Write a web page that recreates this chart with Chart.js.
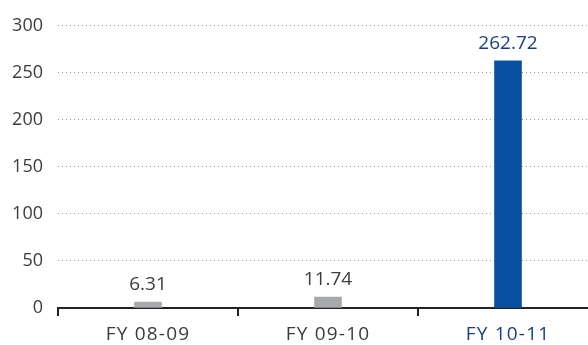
<!DOCTYPE html>
<html>
<head>
<meta charset="utf-8">
<script src="https://cdn.jsdelivr.net/npm/chart.js@4/dist/chart.umd.min.js"></script>
<style>
  html, body { margin: 0; padding: 0; background: #fff; overflow: hidden; }
  #wrap { width: 600px; height: 345px; }
</style>
</head>
<body>
<div id="wrap"><canvas id="fyChart" width="600" height="345"></canvas></div>
<script>
const categories = ["FY 08-09", "FY 09-10", "FY 10-11"];
const values = [6.31, 11.74, 262.72];
const valueLabels = ["6.31", "11.74", "262.72"];
const yMin = 0;
const yMax = 300;
const yStep = 50;

const FONT = "'Open Sans', 'Noto Sans', sans-serif";
const GREY_BAR = "#a7a9ac";
const BLUE_BAR = "#0a50a0";
const GREY_TEXT = "#3c3c3c";
const BLUE_TEXT = "#1b3f7e";

function isLast(i) { return i === categories.length - 1; }

const valueLabelPlugin = {
    id: "valueLabels",
    afterDatasetsDraw(chart) {
        const ctx = chart.ctx;
        const meta = chart.getDatasetMeta(0);
        ctx.save();
        ctx.font = "19px " + FONT;
        ctx.textAlign = "center";
        ctx.textBaseline = "alphabetic";
        meta.data.forEach((bar, i) => {
            ctx.fillStyle = isLast(i) ? BLUE_TEXT : GREY_TEXT;
            ctx.fillText(valueLabels[i], bar.x, bar.y - 12);
        });
        ctx.restore();
        // x tick labels are drawn after this (ticks.z = 1), a bit spaced out
        ctx.letterSpacing = "1.2px";
    },
    afterDraw(chart) {
        chart.ctx.letterSpacing = "0px";
    }
};

new Chart(document.getElementById("fyChart"), {
    type: "bar",
    data: {
        labels: categories,
        datasets: [{
            data: values,
            backgroundColor: categories.map((c, i) => isLast(i) ? BLUE_BAR : GREY_BAR),
            barThickness: 27,
            borderWidth: 0
        }]
    },
    options: {
        responsive: false,
        animation: false,
        devicePixelRatio: 1,
        layout: { padding: { top: 24, right: 2, left: 0, bottom: 0 } },
        plugins: {
            legend: { display: false },
            tooltip: { enabled: false }
        },
        scales: {
            x: {
                offset: true,
                afterFit(scale) { scale.height = 37; },
                border: { display: true, color: "#222", width: 2 },
                grid: {
                    display: true,
                    offset: true,
                    drawOnChartArea: false,
                    drawTicks: true,
                    tickLength: 8,
                    color: "#222",
                    lineWidth: 2
                },
                ticks: {
                    z: 1,
                    padding: 7,
                    font: { family: FONT, size: 19 },
                    color: (c) => isLast(c.index) ? BLUE_TEXT : GREY_TEXT
                }
            },
            y: {
                min: yMin,
                max: yMax,
                afterFit(scale) { scale.width = 58; },
                border: { display: false, dash: [1, 3] },
                grid: {
                    color: "#9a9a9a",
                    lineWidth: 1,
                    drawTicks: false
                },
                ticks: {
                    stepSize: yStep,
                    padding: 15,
                    font: { family: FONT, size: 18 },
                    color: GREY_TEXT
                }
            }
        }
    },
    plugins: [valueLabelPlugin]
});
</script>
</body>
</html>
